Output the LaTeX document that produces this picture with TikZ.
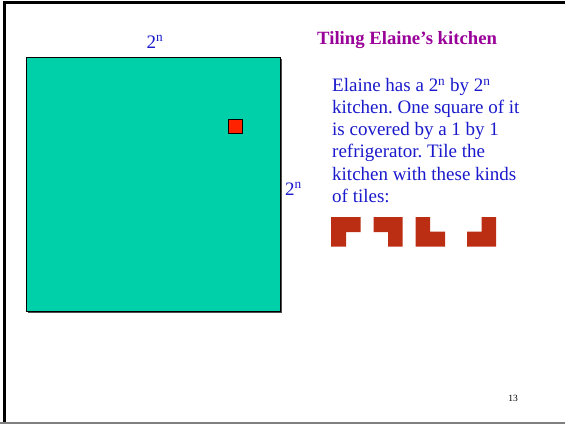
\documentclass[tikz,border=0pt]{standalone}
\usepackage{fontspec}
\setmainfont{Liberation Serif}
\definecolor{floorc}{RGB}{0,208,170}
\definecolor{fridge}{RGB}{255,34,0}
\definecolor{tilec}{RGB}{187,46,20}
\definecolor{textblue}{RGB}{26,26,204}
\definecolor{titlec}{RGB}{153,0,153}
\tikzset{
  tilecell/.style={fill=tilec, draw=none},
  bodytext/.style={text=textblue, font=\fontsize{19}{22.2}\selectfont\frenchspacing, inner sep=0pt},
}
\begin{document}
\begin{tikzpicture}[x=1pt,y=-1pt]
\useasboundingbox (0,0) rectangle (565,424);
\fill[white] (0,0) rectangle (565,424);
% frame
\draw[line width=3pt] (4,424) -- (4,2.5) -- (565,2.5);
\draw[line width=1.5pt, gray] (0,423) -- (565,423);
% kitchen
\fill[black!70] (27.5,58.5) rectangle (281.5,312.5);
\draw[fill=floorc, line width=0.8pt] (26,57) rectangle (280,311);
\node[draw, fill=fridge, line width=0.8pt, minimum size=14pt, inner sep=0pt] (fr) at (235,126) {};
\node[bodytext, anchor=base] (top) at (155,48) {2\textsuperscript{n}};
\node[bodytext, anchor=base west] (side) at (285,195) {2\textsuperscript{n}};
% title
\node[text=titlec, font=\bfseries\fontsize{18.7}{21}\selectfont, anchor=base west, inner sep=0pt] (title) at (317,44) {Tiling Elaine’s kitchen};
% body
\node[bodytext, anchor=north west, align=left] (body) at (332,78) {Elaine has a 2\textsuperscript{n} by 2\textsuperscript{n}\\kitchen. One square of it\\is covered by a 1 by 1\\refrigerator. Tile the\\kitchen with these kinds\\of tiles:};
% tiles
\fill[tilec] (331,217) -- (360.5,217) -- (360.5,232) -- (346,232) -- (346,246.5) -- (331,246.5) -- cycle;
\fill[tilec] (373.5,217) -- (402.5,217) -- (402.5,246.5) -- (388,246.5) -- (388,232) -- (373.5,232) -- cycle;
\fill[tilec] (415.5,217) -- (430,217) -- (430,231.5) -- (445,231.5) -- (445,246.5) -- (415.5,246.5) -- cycle;
\fill[tilec] (481.5,217) -- (496,217) -- (496,246.5) -- (467,246.5) -- (467,231.5) -- (481.5,231.5) -- cycle;
% page number
\node[font=\fontsize{9.5}{10}\selectfont, anchor=base] (pg) at (513,401) {13};
\end{tikzpicture}
\end{document}
